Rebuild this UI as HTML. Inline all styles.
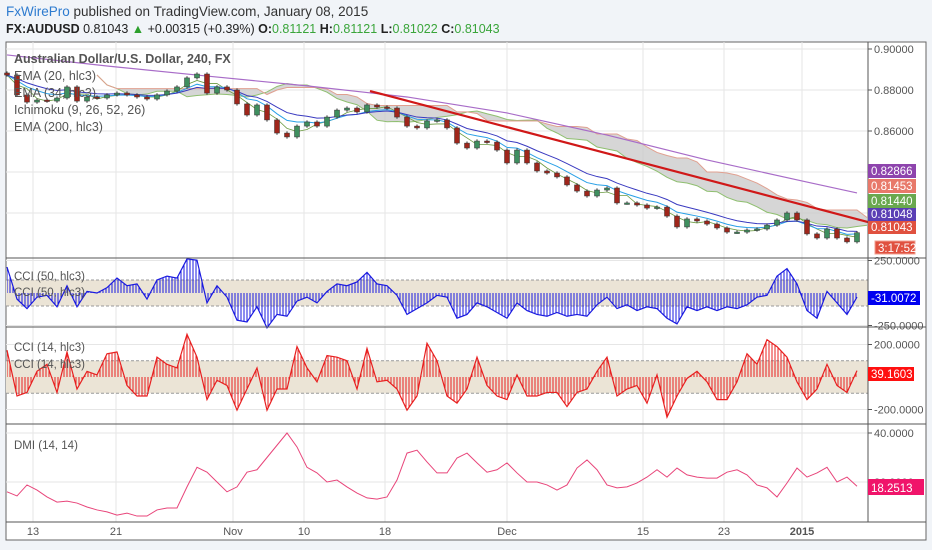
<!DOCTYPE html>
<html><head><meta charset="utf-8"><style>
body{margin:0;background:#f1f4f8;}
svg{display:block;font-family:"Liberation Sans",sans-serif;}
</style></head><body>
<svg id="c" width="932" height="550" xmlns="http://www.w3.org/2000/svg">
<defs>
<pattern id="pb" width="3" height="10" patternUnits="userSpaceOnUse"><line x1="1" y1="0" x2="1" y2="10" stroke="#1a1ae0" stroke-width="1"/></pattern>
<pattern id="pr" width="3" height="10" patternUnits="userSpaceOnUse"><line x1="1" y1="0" x2="1" y2="10" stroke="#e82020" stroke-width="1"/></pattern>
</defs>
<rect x="0" y="0" width="932" height="550" fill="#f1f4f8"/>
<text x="6" y="16" font-size="13.5" fill="#333"><tspan fill="#2e7bcf">FxWirePro</tspan> published on TradingView.com, January 08, 2015</text>
<text x="6" y="33" font-size="12.5" fill="#222"><tspan font-weight="bold">FX:AUDUSD</tspan> 0.81043 <tspan fill="#2ca02c">▲</tspan> +0.00315 (+0.39%) <tspan font-weight="bold">O:</tspan><tspan fill="#3aa53a">0.81121</tspan> <tspan font-weight="bold">H:</tspan><tspan fill="#3aa53a">0.81121</tspan> <tspan font-weight="bold">L:</tspan><tspan fill="#3aa53a">0.81022</tspan> <tspan font-weight="bold">C:</tspan><tspan fill="#3aa53a">0.81043</tspan></text>
<rect x="6" y="42" width="920" height="498" fill="#fff" stroke="#666"/>
<g id="g"></g>
</svg>
<script>
const closes=[.8873,.8776,.8741,.8751,.8746,.8761,.8815,.8746,.8766,.8761,.8776,.8785,.8776,.8766,.8756,.8776,.8795,.8815,.8859,.8878,.8785,.8815,.8800,.8732,.8678,.8727,.8654,.8590,.8571,.8624,.8644,.8624,.8668,.8702,.8712,.8693,.8727,.8717,.8712,.8668,.8624,.8615,.8649,.8654,.8615,.8541,.8517,.8551,.8546,.8507,.8444,.8507,.8444,.8405,.8395,.8376,.8337,.8307,.8283,.8312,.8322,.8249,.8249,.8239,.8224,.8229,.8185,.8132,.8171,.8161,.8146,.8127,.8107,.8107,.8117,.8122,.8141,.8166,.8200,.8166,.8098,.8078,.8122,.8078,.8059,.8104];
const ema200Idx=[0,10,20,30,40,50,60,70,80,85];
const ema200Val=[.8971,.8917,.8868,.8820,.8766,.8688,.8580,.8459,.8351,.8298];
const trendIdx=[36.3,86.1];
const trendVal=[.8795,.8156];
const cci50=[200,-47,-120,-32,-18,-106,56,-106,12,0,41,115,56,70,-47,100,130,115,262,253,-76,56,-32,-209,-223,-106,-268,-165,-179,-62,-32,-76,12,70,56,85,159,70,56,-18,-165,-120,-76,-18,-32,-194,-165,-76,-106,-150,-194,-76,-135,-165,-179,-150,-179,-165,-179,-91,-32,-120,-91,-135,-106,-120,-194,-238,-106,-135,-106,-135,-106,-120,-91,-32,-18,130,188,70,-135,-194,12,-76,-165,-31];
const cci14=[165,-117,-95,35,78,-95,154,-74,35,13,143,154,-52,-117,-117,122,78,56,263,122,-139,-20,-52,-204,-74,56,-204,-74,-74,187,56,-30,132,122,100,-74,176,-30,-20,-74,-204,-117,208,100,-117,-161,-74,122,-52,-117,-139,13,-117,-117,-95,-95,-182,-95,-74,35,122,-117,-74,-52,-161,13,-247,-117,-9,35,-30,-139,-139,-30,143,78,230,187,122,-30,-139,-74,78,-52,-95,39];
const dmi=[16,14.3,18.8,16.7,13.9,11.8,12.2,11.4,9.8,8.6,7.8,6.5,7.3,6.1,6.1,8.6,9.4,9.4,18,26,24,20,16,18,24,25,30,35,40,34.3,26,23.7,20,20.8,18,15.5,13.5,13,13.9,20.8,31.8,33,28.2,23.7,23.7,29.8,31.8,27.8,24,25,27.8,23.7,20,20,18.8,16.7,18.8,25.7,29,25,18.8,17.6,18,19.6,22,25,22,25.7,22.9,22,21.6,21.6,24,25,22.9,18.8,17.6,13.9,19.6,25.7,22,23.7,26,20,22,18.25];
const dateTickIdx=[2.6,10.9,22.6,29.7,37.8,50,63.6,71.7,79.5];
const dateTickLbl=["13","21","Nov","10","18","Dec","15","23","2015"];
const priceTicks=[0.90,0.88,0.86,0.84,0.82];
const priceTickLbl=["0.90000","0.88000","0.86000","",""];

const NS="http://www.w3.org/2000/svg",G=document.getElementById('g');
function el(t,a,p){const e=document.createElementNS(NS,t);for(const k in a)e.setAttribute(k,a[k]);(p||G).appendChild(e);return e;}
const N=closes.length,X0=7,X1=857,AX=868;
const xs=i=>X0+i*(X1-X0)/(N-1);
const yP=p=>49+(0.90-p)/0.02*41;
const y50=v=>293-v*0.13;
const y14=v=>377-v*0.1625;
const yD=v=>482-(v-20)*2.45;

dateTickIdx.forEach((t,k)=>{let x=xs(t);
 let l=el('line',{x1:x,x2:x,y1:42,y2:522,stroke:'#e6e6e6'});
 
 let tx=el('text',{x:x,y:535,'font-size':11,fill:'#555','text-anchor':'middle','font-weight':dateTickLbl[k]=='2015'?'bold':'normal'});tx.textContent=dateTickLbl[k];
 });
[priceTicks.map(yP),[y50(250),y50(-250)],[y14(200),y14(-200)],[yD(40),yD(20)]].forEach(a=>a.forEach(y=>{
 let l=el('line',{x1:6,x2:AX,y1:y,y2:y,stroke:'#e6e6e6'});}));

function band(yf,lo,hi,name){let r=el('rect',{x:6,y:yf(hi),width:AX-6,height:yf(lo)-yf(hi),fill:'#ebe4d6'});
 
 [lo,hi].forEach(v=>{let l=el('line',{x1:6,x2:AX,y1:yf(v),y2:yf(v),stroke:'#999','stroke-dasharray':'3,2'});});}
band(y50,-100,100,'cci50-band');band(y14,-100,100,'cci14-band');

function hh(a,i,n){let s=a.slice(Math.max(0,i-n+1),i+1);return (Math.max(...s)+Math.min(...s))/2;}
const shift=9,spanA=[],spanB=[],tenk=[];
for(let i=0;i<N;i++){let t=hh(closes,i,3),k=hh(closes,i,9);tenk.push(t);spanA.push((t+k)/2);spanB.push(hh(closes,i,17));}
let up=[],dn=[];
for(let i=0;i<N;i++){let j=i+shift;if(j>=N+1)break;let x=Math.min(xs(j),AX);up.push([x,yP(spanA[i])]);dn.push([x,yP(spanB[i])]);}
let cp=up.map(p=>p.join(',')).concat(dn.slice().reverse().map(p=>p.join(','))).join(' ');
let cloud=el('polygon',{points:cp,fill:'#c8c8c8','fill-opacity':0.75});

let sa=el('polyline',{points:up.map(p=>p.join(',')).join(' '),fill:'none',stroke:'#8fbf70'});

let sb=el('polyline',{points:dn.map(p=>p.join(',')).join(' '),fill:'none',stroke:'#e0a090'});

let tl=el('polyline',{points:tenk.map((v,i)=>xs(i)+','+yP(v)).join(' '),fill:'none',stroke:'#6a9a40','stroke-width':0.8});


function ema(n){let k=2/(n+1),o=[],e=closes[0];closes.forEach(c=>{e=c*k+e*(1-k);o.push(e);});return o;}
[[ema(6),'#29a0e6','ema-20-line'],[ema(10),'#3a3ac0','ema-34-line']].forEach(([a,c,n])=>{
 let l=el('polyline',{points:a.map((v,i)=>xs(i)+','+yP(v)).join(' '),fill:'none',stroke:c,'stroke-width':1});
 });
let e2=el('polyline',{points:ema200Idx.map((t,k)=>xs(t)+','+yP(ema200Val[k])).join(' '),fill:'none',stroke:'#a86cc8','stroke-width':1.2});


closes.forEach((c,i)=>{let o=i?closes[i-1]:c+0.001,x=xs(i),hi=Math.max(o,c)+0.0008,lo=Math.min(o,c)-0.0008;
 let w=el('line',{x1:x,x2:x,y1:yP(hi),y2:yP(lo),stroke:'#333','stroke-width':1});
 
 let t=Math.min(yP(o),yP(c)),h=Math.max(1.5,Math.abs(yP(o)-yP(c)));
 let b=el('rect',{x:x-2.5,y:t,width:5,height:h,fill:c>=o?'#3f8f5f':'#a0261b',stroke:'#333','stroke-width':0.5});
 });

let tr=el('line',{x1:xs(trendIdx[0]),y1:yP(trendVal[0]),x2:xs(trendIdx[1]),y2:yP(trendVal[1]),stroke:'#d01818','stroke-width':2.2});


function hist(a,yf,c,pat,name){
 let pts=a.map((v,i)=>xs(i)+','+yf(v));
 let area=el('polygon',{points:[xs(0)+','+yf(0)].concat(pts,[xs(a.length-1)+','+yf(0)]).join(' '),fill:'url(#'+pat+')'});
 
 let p=el('polyline',{points:pts.join(' '),fill:'none',stroke:c,'stroke-width':1.2});
 }
hist(cci50,y50,'#1a1ae0','pb','cci50');hist(cci14,y14,'#e82020','pr','cci14');
let dl=el('polyline',{points:dmi.map((v,i)=>xs(i)+','+yD(v)).join(' '),fill:'none',stroke:'#e8457a','stroke-width':1});


[258,327,424,522].forEach(y=>{let l=el('line',{x1:6,x2:926,y1:y,y2:y,stroke:'#555'});});
let ax=el('line',{x1:AX,x2:AX,y1:42,y2:522,stroke:'#555'});
function ytick(y,t){let l=el('line',{x1:AX,x2:AX+4,y1:y,y2:y,stroke:'#555'});
 let tx=el('text',{x:AX+6,y:y+4,'font-size':11,fill:'#555'});tx.textContent=t;}
priceTicks.forEach((p,k)=>{if(priceTickLbl[k])ytick(yP(p),priceTickLbl[k]);});
ytick(y50(250),'250.0000');ytick(y50(-250),'-250.0000');ytick(y14(200),'200.0000');ytick(y14(-200),'-200.0000');ytick(yD(40),'40.0000');ytick(yD(20),'20.0000');

function badge(y,h,txt,bg,name,w){let r=el('rect',{x:AX,y:y,width:w||48,height:h,fill:bg});
 let t=el('text',{x:AX+3,y:y+h-3,'font-size':11.5,fill:'#fff'});t.textContent=txt;}
badge(164,14,'0.82866','#8e44ad','ema200-badge');badge(179,14,'0.81453','#e8796a','span-b-badge');
badge(194,14,'0.81440','#6aa84f','span-a-badge');badge(208,13,'0.81048','#5b3fb5','ema-badge');
badge(221,13,'0.81043','#e0513f','price-badge');
let cd=el('rect',{x:875,y:241,width:40,height:13,fill:'#e0513f',stroke:'#f0a090'});
let ct=el('text',{x:878,y:252,'font-size':11.5,fill:'#fff'});ct.textContent='3:17:52';
badge(291,14,'-31.0072','#0000f0','cci50-badge',52);badge(367,14,'39.1603','#ff1010','cci14-badge',46);badge(479,16,'18.2513','#f0146a','dmi-badge',56);

function leg(x,y,t,s,b,n){let tx=el('text',{x:x,y:y,'font-size':s,fill:'#555','font-weight':b?'bold':'normal'});tx.textContent=t;}
leg(14,63,'Australian Dollar/U.S. Dollar, 240, FX',12.5,1,'main-title');
leg(14,80,'EMA (20, hlc3)',12.5,0,'legend-ema20');leg(14,97,'EMA (34, hlc3)',12.5,0,'legend-ema34');
leg(14,114,'Ichimoku (9, 26, 52, 26)',12.5,0,'legend-ichimoku');leg(14,131,'EMA (200, hlc3)',12.5,0,'legend-ema200');
leg(14,280,'CCI (50, hlc3)',11.5,0,'legend-cci50');leg(14,296,'CCI (50, hlc3)',11.5,0,'legend-cci50b');
leg(14,351,'CCI (14, hlc3)',11.5,0,'legend-cci14');leg(14,368,'CCI (14, hlc3)',11.5,0,'legend-cci14b');
leg(14,449,'DMI (14, 14)',11.5,0,'legend-dmi');
</script>
</body></html>
